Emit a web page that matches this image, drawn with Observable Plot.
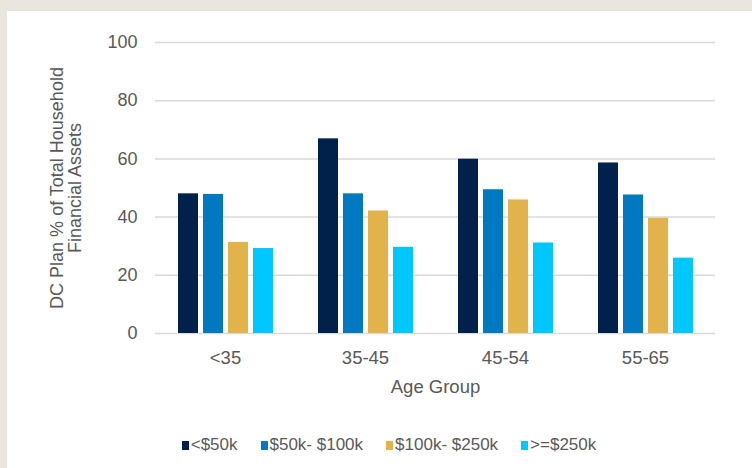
<!DOCTYPE html>
<html>
<head>
<meta charset="utf-8">
<script src="https://cdn.jsdelivr.net/npm/d3@7"></script>
<script src="https://cdn.jsdelivr.net/npm/@observablehq/plot@0.6"></script>
<style>
  html, body { margin: 0; padding: 0; }
  body { width: 752px; height: 468px; background: #EAE5DF; position: relative; overflow: hidden; }
  #panel { position: absolute; left: 7px; top: 11px; width: 745px; height: 457px; background: #ffffff; }
  #legend { display: flex; justify-content: center; align-items: center; gap: 23px; margin-top: 24px; padding-left: 19px;
    font-family: "Liberation Sans Narrow", "Arial Narrow", "Liberation Sans", Arial, sans-serif; font-size: 17px; color: #595959; }
  #legend .item { display: flex; align-items: center; gap: 2px; }
  #legend .sw { width: 7px; height: 9px; display: inline-block; }
</style>
</head>
<body>
<div id="panel"><div id="chart"></div><div id="legend"></div></div>
<script>
const ageGroups = ["<35", "35-45", "45-54", "55-65"];
const incomeBands = ["<$50k", "$50k- $100k", "$100k- $250k", ">=$250k"];
const bandColors = ["#00214A", "#0079C1", "#E3B34B", "#00C8FF"];
const under50k = [48.0, 66.9, 59.9, 58.6];
const from50kTo100k = [47.8, 48.0, 49.4, 47.6];
const from100kTo250k = [31.3, 42.1, 45.9, 39.6];
const over250k = [29.2, 29.6, 31.1, 25.9];
const yTicks = [0, 20, 40, 60, 80, 100];
const yTitle = "DC Plan % of Total Household\nFinancial Assets";
const xTitle = "Age Group";

const series = [under50k, from50kTo100k, from100kTo250k, over250k];
const data = [];
ageGroups.forEach((age, i) => {
  incomeBands.forEach((band, j) => {
    data.push({age, band, value: series[j][i]});
  });
});

const narrow = "'Liberation Sans Narrow', 'Arial Narrow', 'Liberation Sans', Arial, sans-serif";

const chart = Plot.plot({
  width: 745,
  height: 400,
  marginTop: 31,
  marginBottom: 78,
  marginLeft: 148,
  marginRight: 36.5,
  style: {fontFamily: narrow, fontSize: "18px", color: "#595959", background: "white"},
  fx: {domain: ageGroups, padding: 0},
  x: {domain: incomeBands, axis: null, paddingInner: 0.216, paddingOuter: 0.851},
  y: {domain: [0, 100]},
  color: {domain: incomeBands, range: bandColors},
  marks: [
    Plot.gridY(yTicks, {stroke: "#D9D9D9", strokeOpacity: 1, strokeWidth: 1.5}),
    Plot.axisY(yTicks, {tickSize: 0, tickPadding: 18, fontSize: 18, label: yTitle, labelArrow: false, labelAnchor: "center", labelOffset: 105}),
    Plot.axisFx({anchor: "bottom", tickSize: 0, tickPadding: 17, fontSize: 18.5, label: xTitle, labelArrow: false, labelAnchor: "center", labelOffset: 59}),
    Plot.barY(data, {fx: "age", x: "band", y: "value", fill: "band"})
  ]
});

document.getElementById("chart").appendChild(chart);

const lbl = chart.querySelector('[aria-label="y-axis label"]');
if (lbl) {
  lbl.setAttribute("font-family", "'Liberation Sans', Arial, sans-serif");
  lbl.style.fontFamily = "'Liberation Sans', Arial, sans-serif";
}

const legend = document.getElementById("legend");
incomeBands.forEach((band, j) => {
  const item = document.createElement("span");
  item.className = "item";
  const sw = document.createElement("span");
  sw.className = "sw";
  sw.style.background = bandColors[j];
  const t = document.createElement("span");
  t.textContent = band;
  item.appendChild(sw);
  item.appendChild(t);
  legend.appendChild(item);
});
</script>
</body>
</html>
